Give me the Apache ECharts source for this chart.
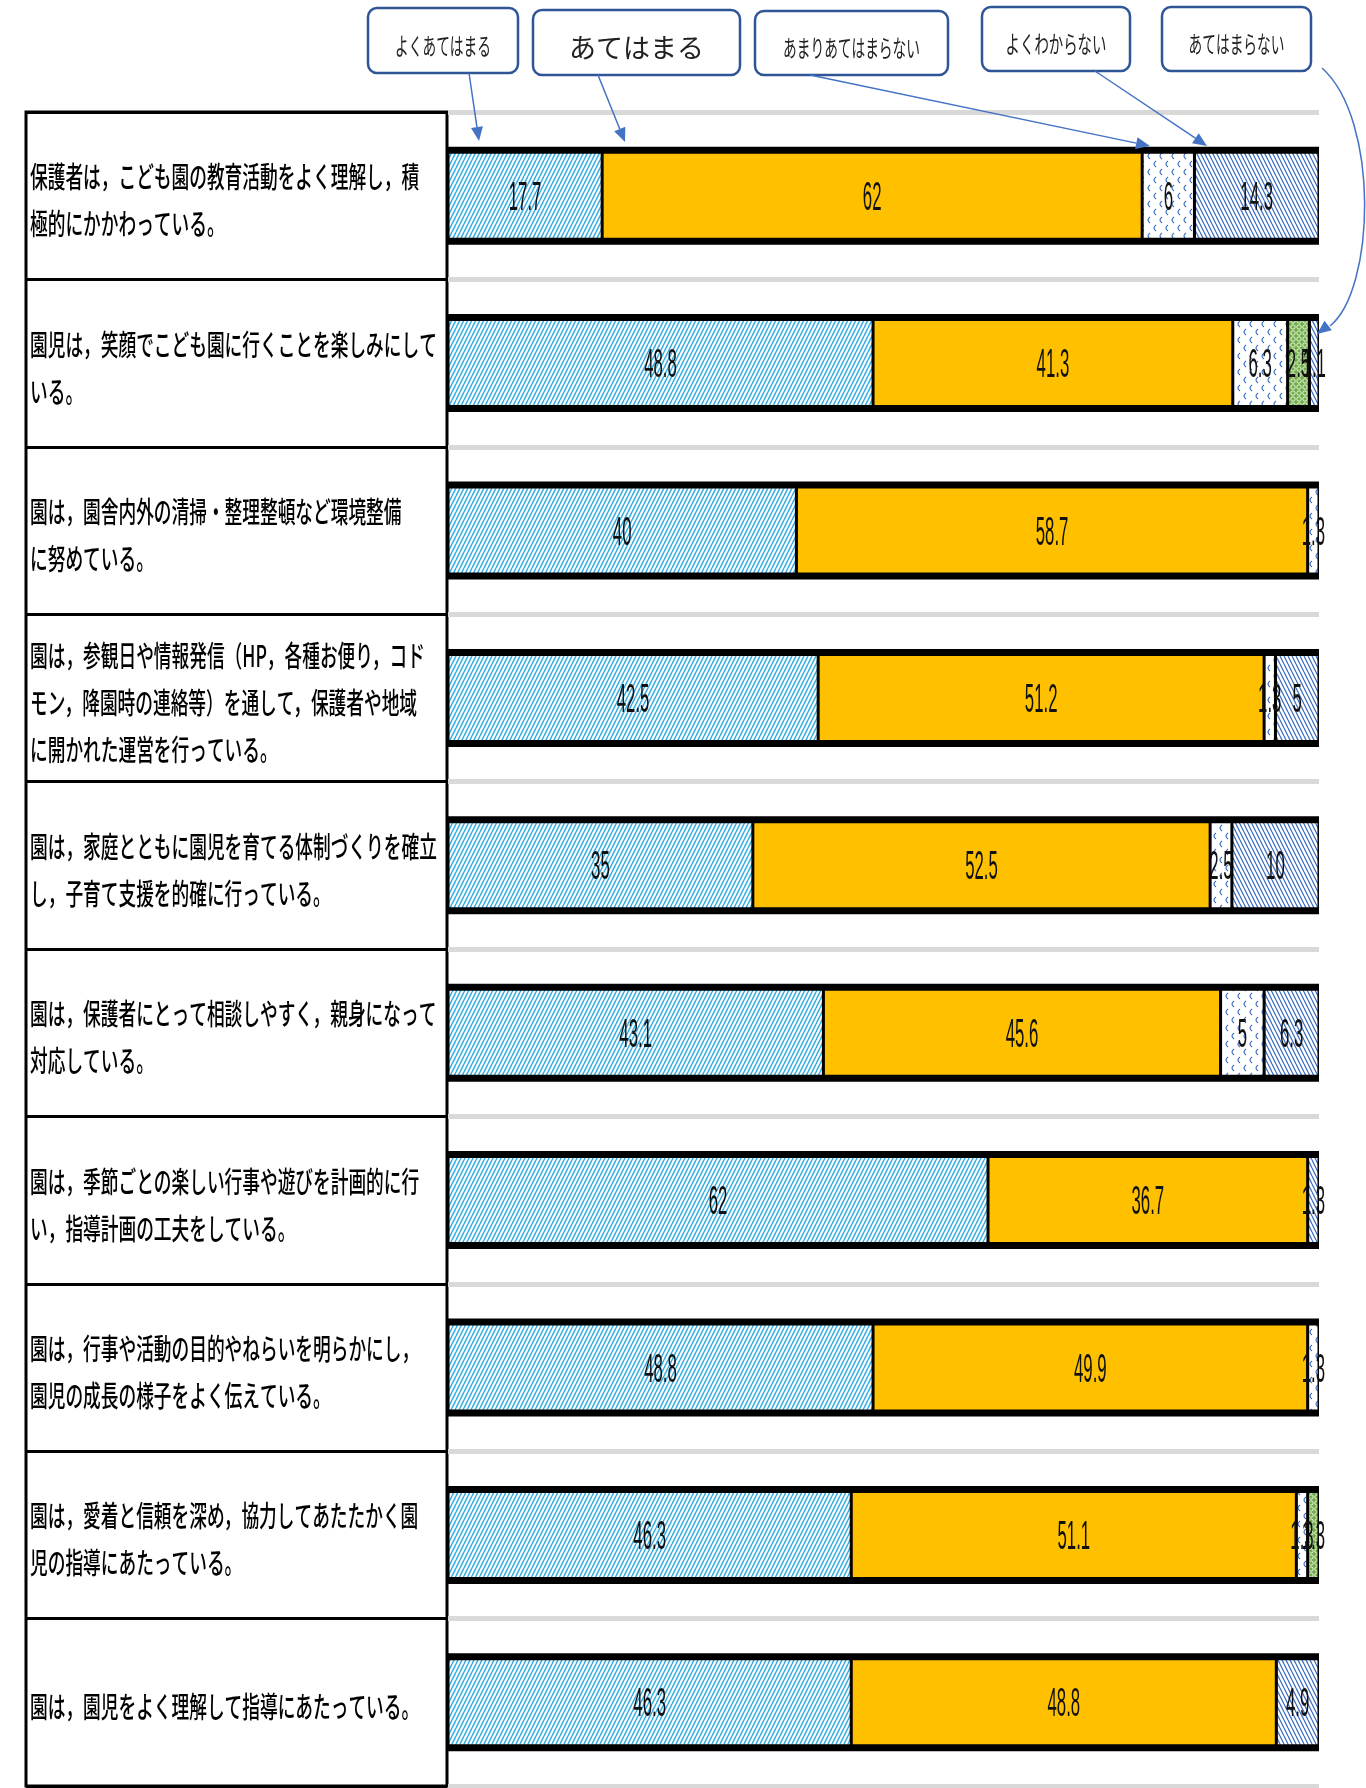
<!DOCTYPE html>
<html><head><meta charset="utf-8">
<script src="https://cdn.jsdelivr.net/npm/echarts@6/dist/echarts.min.js"></script>
<style>html,body{margin:0;padding:0;background:#fff}#c{width:1366px;height:1788px}</style>
</head><body><div id="c"></div>
<script>
const categories = [
  '保護者は，こども園の教育活動をよく理解し，積\n極的にかかわっている。',
  '園児は，笑顔でこども園に行くことを楽しみにして\nいる。',
  '園は，園舎内外の清掃・整理整頓など環境整備\nに努めている。',
  '園は，参観日や情報発信（HP，各種お便り，コド\nモン，降園時の連絡等）を通して，保護者や地域\nに開かれた運営を行っている。',
  '園は，家庭とともに園児を育てる体制づくりを確立\nし，子育て支援を的確に行っている。',
  '園は，保護者にとって相談しやすく，親身になって\n対応している。',
  '園は，季節ごとの楽しい行事や遊びを計画的に行\nい，指導計画の工夫をしている。',
  '園は，行事や活動の目的やねらいを明らかにし，\n園児の成長の様子をよく伝えている。',
  '園は，愛着と信頼を深め，協力してあたたかく園\n児の指導にあたっている。',
  '園は，園児をよく理解して指導にあたっている。'
];
const legendNames = ['よくあてはまる', 'あてはまる', 'あまりあてはまらない', 'よくわからない', 'あてはまらない'];
const yokuAtehamaru      = [17.7, 48.8, 40, 42.5, 35, 43.1, 62, 48.8, 46.3, 46.3];
const atehamaru          = [62, 41.3, 58.7, 51.2, 52.5, 45.6, 36.7, 49.9, 51.1, 48.8];
const amariAtehamaranai  = [6, 6.3, 1.3, 1.3, 2.5, 5, 0, 1.3, 1.3, 0];
const yokuWakaranai      = [14.3, 1.1, 0, 5, 10, 6.3, 1.3, 0, 0, 4.9];
const atehamaranai       = [0, 2.5, 0, 0, 0, 0, 0, 0, 1.3, 0];

function mk(w, h, draw) {
  const c = document.createElement('canvas'); c.width = w; c.height = h;
  const g = c.getContext('2d'); draw(g, w, h); return c;
}
const pYoku = mk(4, 8, (g, w, h) => {
  g.fillStyle = '#fff'; g.fillRect(0, 0, w, h);
  g.strokeStyle = '#3aaee2'; g.lineWidth = 1.5; g.beginPath();
  for (let k = -1; k <= 1; k++) { g.moveTo(k * w, h); g.lineTo(k * w + w, 0); }
  g.stroke();
});
const pWaka = mk(4, 8, (g, w, h) => {
  g.fillStyle = '#fff'; g.fillRect(0, 0, w, h);
  g.strokeStyle = '#4472c4'; g.lineWidth = 1.3; g.beginPath();
  for (let k = -1; k <= 1; k++) { g.moveTo(k * w, 0); g.lineTo(k * w + w, h); }
  g.stroke();
});
const pAmari = mk(12, 16, (g, w, h) => {
  g.fillStyle = '#fff'; g.fillRect(0, 0, w, h);
  g.strokeStyle = '#4472c4'; g.lineWidth = 1.2; g.beginPath();
  g.moveTo(4, 1); g.quadraticCurveTo(0, 4, 4, 7);
  g.moveTo(10, 9); g.quadraticCurveTo(6, 12, 10, 15);
  g.stroke();
});
const pGreen = mk(6, 6, (g, w, h) => {
  g.fillStyle = '#70ad47'; g.fillRect(0, 0, w, h);
  g.strokeStyle = '#e8f3dd'; g.lineWidth = 1; g.beginPath();
  g.arc(3, 3, 2.2, 0, Math.PI * 2); g.stroke();
});
const pat = c => (typeof c === 'string' ? c : { image: c, repeat: 'repeat' });

const stackOrder = [
  { name: legendNames[0], data: yokuAtehamaru, color: pYoku },
  { name: legendNames[1], data: atehamaru, color: '#FFC000' },
  { name: legendNames[2], data: amariAtehamaranai, color: pAmari },
  { name: legendNames[4], data: atehamaranai, color: pGreen },
  { name: legendNames[3], data: yokuWakaranai, color: pWaka }
];

const totals = categories.map((c, i) => stackOrder.reduce((s, o) => s + o.data[i], 0));
const labelData = [];
categories.forEach((c, i) => {
  let cum = 0;
  stackOrder.forEach(o => {
    const v = o.data[i];
    if (v > 0) labelData.push([cum + v / 2, i, v]);
    cum += v;
  });
});

const barSeries = stackOrder.map(o => ({
  type: 'bar', name: o.name, stack: 'total', barWidth: 87,
  xAxisIndex: 0, yAxisIndex: 0, z: 2,
  itemStyle: { color: pat(o.color), borderColor: '#000', borderWidth: 1.5 },
  emphasis: { disabled: true },
  data: o.data.map(v => (v > 0 ? v : '-'))
}));

function arrow(x1, y1, x2, y2) {
  const ang = Math.atan2(y2 - y1, x2 - x1), L = 14, W = 6;
  const bx = x2 - L * Math.cos(ang), by = y2 - L * Math.sin(ang);
  return [
    { type: 'line', z: 100, shape: { x1, y1, x2: bx, y2: by }, style: { stroke: '#4472c4', lineWidth: 1.5 } },
    { type: 'polygon', z: 100, shape: { points: [[x2, y2], [bx + W * Math.sin(ang), by - W * Math.cos(ang)], [bx - W * Math.sin(ang), by + W * Math.cos(ang)]] }, style: { fill: '#4472c4' } }
  ];
}
const boxes = [
  { x: 368, y: 8, w: 150, h: 65, text: legendNames[0], fs: 24, sx: 0.57 },
  { x: 533, y: 10, w: 207, h: 65, text: legendNames[1], fs: 27, sx: 1 },
  { x: 755, y: 11, w: 193, h: 64, text: legendNames[2], fs: 24, sx: 0.57 },
  { x: 982, y: 7, w: 148, h: 64, text: legendNames[3], fs: 24, sx: 0.6 },
  { x: 1162, y: 7, w: 149, h: 64, text: legendNames[4], fs: 24, sx: 0.57 }
];
const graphics = [];
boxes.forEach(b => {
  graphics.push({ type: 'rect', z: 100, shape: { x: b.x, y: b.y, width: b.w, height: b.h, r: 9 }, style: { fill: '#fff', stroke: '#2f5597', lineWidth: 2.5 } });
  graphics.push({ type: 'text', z: 101, x: b.x + b.w / 2, y: b.y + b.h / 2 + 5, scaleX: b.sx,
    style: { text: b.text, fontSize: b.fs, fontFamily: 'Noto Sans CJK JP', fill: '#222', align: 'center', verticalAlign: 'middle' } });
});
graphics.push(...arrow(469, 73, 479, 141));
graphics.push(...arrow(598, 75, 625, 142));
graphics.push(...arrow(810, 75, 1150, 146));
graphics.push(...arrow(1095, 71, 1207, 146));
graphics.push({ type: 'bezierCurve', z: 100, shape: { x1: 1322, y1: 68, cpx1: 1380, cpy1: 120, cpx2: 1375, cpy2: 290, x2: 1330, y2: 326 }, style: { stroke: '#4472c4', lineWidth: 1.5, fill: null } });
(function () {
  const x2 = 1317, y2 = 334, ang = Math.atan2(334 - 290, 1317 - 1375), L = 14, W = 6;
  const bx = x2 - L * Math.cos(ang), by = y2 - L * Math.sin(ang);
  graphics.push({ type: 'polygon', z: 100, shape: { points: [[x2, y2], [bx + W * Math.sin(ang), by - W * Math.cos(ang)], [bx - W * Math.sin(ang), by + W * Math.cos(ang)]] }, style: { fill: '#4472c4' } });
})();

const chart = echarts.init(document.getElementById('c'));
chart.setOption({
  animation: false,
  backgroundColor: '#fff',
  grid: [
    { left: 448, top: 112, width: 871, height: 1674 },
    { left: 26, top: 112, width: 421, height: 1674, show: true, borderColor: '#000', borderWidth: 3, backgroundColor: 'transparent' }
  ],
  xAxis: [
    { gridIndex: 0, type: 'value', min: 0, max: 100, show: false },
    { gridIndex: 1, type: 'value', min: 0, max: 1, show: false }
  ],
  yAxis: [
    { gridIndex: 0, type: 'category', data: categories, inverse: true,
      axisLine: { show: false }, axisTick: { show: false }, axisLabel: { show: false },
      splitLine: { show: true, interval: 0, lineStyle: { color: '#d9d9d9', width: 5 } } },
    { gridIndex: 1, type: 'category', data: categories, inverse: true,
      axisLine: { show: false }, axisTick: { show: false }, axisLabel: { show: false },
      splitLine: { show: true, interval: 0, lineStyle: { color: '#000', width: 3 } } }
  ],
  series: [
    { type: 'custom', name: 'frame', xAxisIndex: 0, yAxisIndex: 0, z: 1,
      encode: { x: 0, y: 1 },
      data: totals.map((t, i) => [t, i]),
      renderItem: (params, api) => {
        const i = api.value(1);
        const a = api.coord([0, i]), b = api.coord([api.value(0), i]);
        return { type: 'rect', shape: { x: a[0], y: a[1] - 49, width: b[0] - a[0], height: 98 }, style: { fill: '#000' } };
      } },
    ...barSeries,
    { type: 'custom', name: 'values', xAxisIndex: 0, yAxisIndex: 0, z: 10,
      encode: { x: 0, y: 1 },
      data: labelData,
      renderItem: (params, api) => {
        const p = api.coord([api.value(0), api.value(1)]);
        return { type: 'text', x: p[0], y: p[1] + 3, scaleX: 0.42,
          style: { text: String(api.value(2)), fontSize: 40, fontFamily: 'Liberation Sans', fill: '#111', align: 'center', verticalAlign: 'middle' } };
      } },
    { type: 'custom', name: 'categoryLabels', xAxisIndex: 1, yAxisIndex: 1, z: 10,
      encode: { x: 0, y: 1 },
      data: categories.map((c, i) => [0, i]),
      renderItem: (params, api) => {
        const p = api.coord([0, api.value(1)]);
        return { type: 'text', x: p[0] + 4, y: p[1] + 5, scaleX: 0.61,
          style: { text: categories[params.dataIndex], fontSize: 29, fontWeight: 500, lineHeight: 47, fontFamily: 'Noto Sans CJK JP', fill: '#000', align: 'left', verticalAlign: 'middle' } };
      } }
  ],
  graphic: { elements: graphics }
});
</script></body></html>
